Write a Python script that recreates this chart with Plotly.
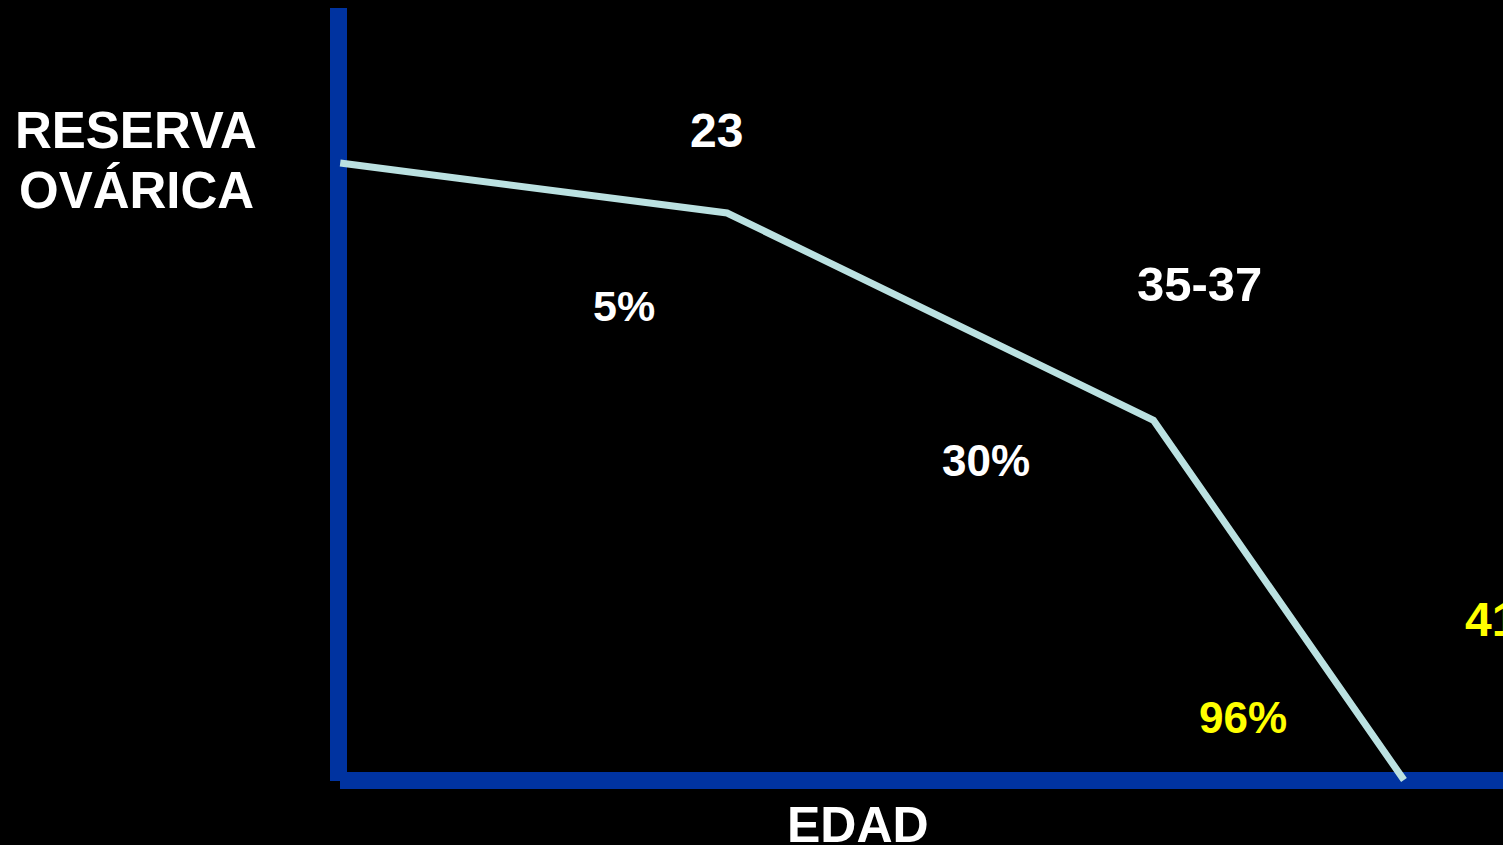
import plotly.graph_objects as go

W, H = 1503, 845

# curva de reserva ovárica (edad en unidades del eje, reserva en %)
edad = [0.2, 33.4, 70.0, 91.5]
reserva = [100, 91.9, 58.3, 0]

etiquetas_edad = ["23", "35-37", "41"]
etiquetas_perdida = ["5%", "30%", "96%"]

BLUE = "#0033A0"
LINE = "#BBE1E1"
WHITE = "#FFFFFF"
YELLOW = "#FFFF00"
FONT = "Liberation Sans, Arial, sans-serif"


def px_x(x):
    return x / W


def px_y(y):
    return 1 - y / H


fig = go.Figure()
fig.add_trace(
    go.Scatter(
        x=edad,
        y=reserva,
        mode="lines",
        line=dict(color=LINE, width=7),
        hoverinfo="skip",
        showlegend=False,
    )
)

# ejes gruesos azules
fig.add_shape(type="rect", xref="paper", yref="paper",
              x0=px_x(330), x1=px_x(347), y0=px_y(781), y1=px_y(8),
              fillcolor=BLUE, line_width=0, layer="below")
fig.add_shape(type="rect", xref="paper", yref="paper",
              x0=px_x(340), x1=px_x(W + 5), y0=px_y(789), y1=px_y(772),
              fillcolor=BLUE, line_width=0, layer="below")


def label(text, x, y, size, color=WHITE, xanchor="center"):
    fig.add_annotation(
        text=text, xref="paper", yref="paper",
        x=px_x(x), y=px_y(y), xanchor=xanchor, yanchor="middle",
        showarrow=False,
        font=dict(family=FONT, size=size, color=color, weight="bold"),
    )


label("RESERVA", 136, 130, 51)
label("OVÁRICA", 136, 190, 51)
label("EDAD", 858, 825, 50)

label(etiquetas_edad[0], 716, 130, 48)
label(etiquetas_edad[1], 1199, 284, 49)
label(etiquetas_edad[2], 1463, 619, 48, YELLOW, xanchor="left")

label(etiquetas_perdida[0], 624, 306, 43)
label(etiquetas_perdida[1], 986, 460, 44)
label(etiquetas_perdida[2], 1243, 717, 44, YELLOW)

fig.update_layout(
    width=W,
    height=H,
    margin=dict(l=0, r=0, t=0, b=0),
    paper_bgcolor="black",
    plot_bgcolor="black",
    xaxis=dict(visible=False, range=[-29.0, 100], fixedrange=True),
    yaxis=dict(visible=False, range=[-10.53, 126.42], fixedrange=True),
)

fig.write_html(
    "out.html",
    config={"displayModeBar": False},
    post_script="document.body.style.margin='0';document.body.style.overflow='hidden';"
                "document.body.style.background='black';",
)
